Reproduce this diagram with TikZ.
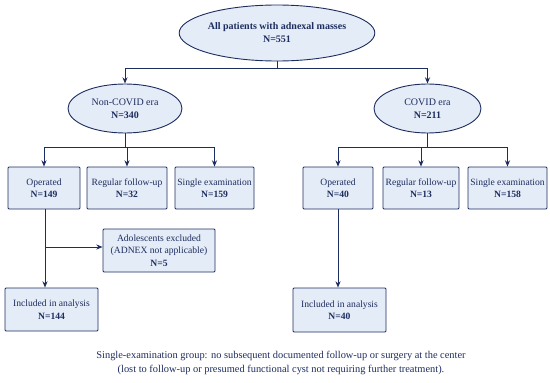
\documentclass[tikz,border=0pt]{standalone}
\usepackage{fontspec}
\setmainfont{Liberation Serif}
\usepackage{tikz}
\usetikzlibrary{positioning,arrows.meta,calc,shapes.geometric}
\definecolor{navy}{RGB}{30,45,95}
\definecolor{boxfill}{RGB}{228,236,247}
\tikzset{
  >={Stealth[length=2.2mm,width=1.8mm]},
  x=1pt,y=-1pt,
  erabox/.style={ellipse,draw=navy,fill=boxfill,line width=0.9pt,
    inner sep=0pt,align=center,text=navy,
    font=\fontsize{10}{13}\selectfont},
  grpbox/.style={draw=navy,fill=boxfill,line width=0.9pt,rounded corners=1pt,
    minimum height=42pt,inner sep=1pt,align=center,text=navy,
    font=\fontsize{9.6}{12.5}\selectfont},
  link/.style={draw=navy,line width=1pt},
  flow/.style={link,->},
  notetext/.style={align=center,text=navy,font=\fontsize{10.4}{14}\selectfont},
}
\begin{document}
\begin{tikzpicture}
  \useasboundingbox (0,0) rectangle (550,383);
  \node[erabox,minimum width=180pt,minimum height=56pt] (all) at (277,33)
    {\textbf{All patients with adnexal masses}\\\textbf{N=551}};
  \node[erabox,minimum width=114pt,minimum height=49pt] (ncov) at (125,108.5)
    {Non-COVID era\\\textbf{N=340}};
  \node[erabox,minimum width=107pt,minimum height=49pt] (cov) at (427.5,108.5)
    {COVID era\\\textbf{N=211}};
  % non-COVID groups
  \node[grpbox,minimum width=72pt] (op1) at (44,188) {Operated\\\textbf{N=149}};
  \node[grpbox,minimum width=80pt] (reg1) at (127,188) {Regular follow-up\\\textbf{N=32}};
  \node[grpbox,minimum width=79pt] (sgl1) at (214.5,188) {Single examination\\\textbf{N=159}};
  \node[grpbox,minimum width=112pt,minimum height=43pt] (exc) at (159,250.5)
    {Adolescents excluded\\(ADNEX not applicable)\\\textbf{N=5}};
  \node[grpbox,minimum width=93pt,minimum height=43pt] (inc1) at (51.5,309.5)
    {Included in analysis\\\textbf{N=144}};
  % COVID groups
  \node[grpbox,minimum width=70pt] (op2) at (338,188) {Operated\\\textbf{N=40}};
  \node[grpbox,minimum width=76pt] (reg2) at (421,188) {Regular follow-up\\\textbf{N=13}};
  \node[grpbox,minimum width=79pt] (sgl2) at (507.5,188) {Single examination\\\textbf{N=158}};
  \node[grpbox,minimum width=93pt,minimum height=44pt] (inc2) at (339.5,310)
    {Included in analysis\\\textbf{N=40}};
  \node[notetext] (note) at (281,363)
    {Single-examination group: no subsequent documented follow-up or surgery at the center\\
     (lost to follow-up or presumed functional cyst not requiring further treatment).};
  % split points
  \coordinate (j0) at (277,68);
  \coordinate (j1) at (125,147);
  \coordinate (j2) at (427.5,147);
  \coordinate (j3) at (45,247);
  \draw[link] (all.south) -- (j0);
  \draw[flow] (j0) -| (ncov.north);
  \draw[flow] (j0) -| (cov.north);
  \draw[link] (ncov.south) -- (j1);
  \draw[flow] (j1) -| (op1.north);
  \draw[flow] (j1) -| (reg1.north);
  \draw[flow] (j1) -| (sgl1.north);
  \draw[link] (cov.south) -- (j2);
  \draw[flow] (j2) -| (op2.north);
  \draw[flow] (j2) -| (reg2.north);
  \draw[flow] (j2) -| (sgl2.north);
  \draw[flow] (op1.south -| j3) -- (j3 |- inc1.north);
  \draw[flow] (j3) -- (j3 -| exc.west);
  \draw[flow] (op2.south) -- (op2.south |- inc2.north);
\end{tikzpicture}
\end{document}
